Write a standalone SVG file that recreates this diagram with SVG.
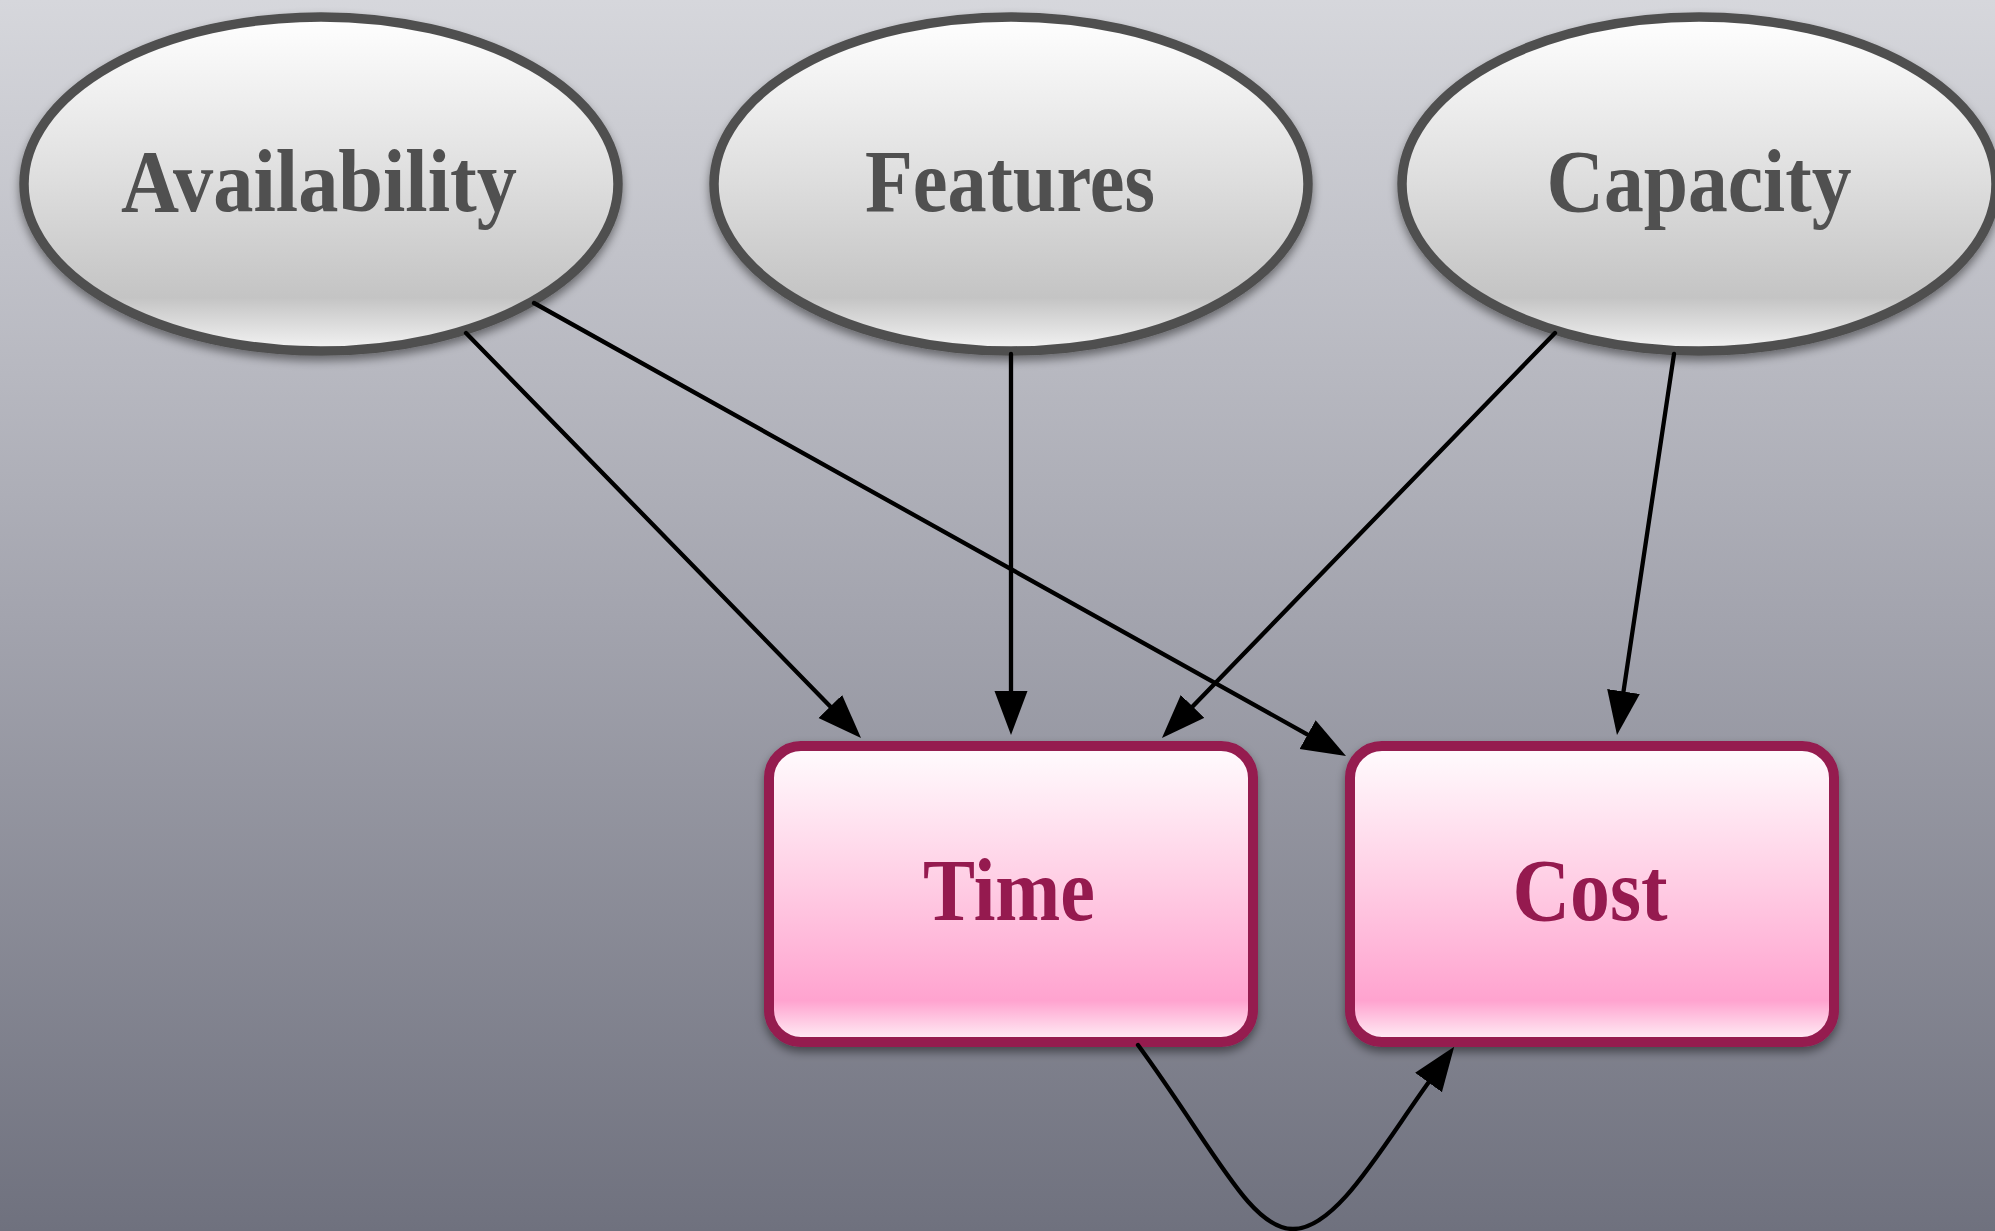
<svg xmlns="http://www.w3.org/2000/svg" width="1995" height="1231" viewBox="0 0 1995 1231">
  <defs>
    <linearGradient id="bg" x1="0" y1="0" x2="0" y2="1">
      <stop offset="0" stop-color="#d6d7dc"/>
      <stop offset="0.5" stop-color="#a3a4ae"/>
      <stop offset="1" stop-color="#6f717e"/>
    </linearGradient>
    <linearGradient id="grayFill" x1="0" y1="0" x2="0" y2="1">
      <stop offset="0" stop-color="#ffffff"/>
      <stop offset="0.5" stop-color="#dddddd"/>
      <stop offset="0.84" stop-color="#c4c4c4"/>
      <stop offset="1" stop-color="#f4f4f4"/>
    </linearGradient>
    <linearGradient id="pinkFill" x1="0" y1="0" x2="0" y2="1">
      <stop offset="0" stop-color="#fffcfe"/>
      <stop offset="0.45" stop-color="#ffcfe5"/>
      <stop offset="0.86" stop-color="#ffa3cf"/>
      <stop offset="1" stop-color="#fff2f8"/>
    </linearGradient>
    <filter id="shadow" x="-10%" y="-10%" width="120%" height="130%">
      <feDropShadow dx="0" dy="5" stdDeviation="5" flood-color="#000000" flood-opacity="0.45"/>
    </filter>
    <marker id="arrow" markerUnits="userSpaceOnUse" markerWidth="46" markerHeight="34" refX="0" refY="16.5" orient="auto">
      <path d="M0,0 L44,16.5 L0,33 Z" fill="#000000"/>
    </marker>
    <style>
      .oval { fill: url(#grayFill); stroke: #505050; stroke-width: 9.5; filter: url(#shadow); }
      .box { fill: url(#pinkFill); stroke: #951a4f; stroke-width: 10; filter: url(#shadow); }
      .lbl { font-family: "Liberation Serif", "Times New Roman", serif; font-weight: bold; font-size: 88px; text-anchor: middle; }
      .gray { fill: #505050; }
      .red { fill: #951a4f; }
      .edge { fill: none; stroke: #000000; stroke-width: 4.3; stroke-linecap: round; marker-end: url(#arrow); }
    </style>
  </defs>

  <!-- backdrop -->
  <rect x="0" y="0" width="1995" height="1231" fill="url(#bg)"/>

  <!-- source factors -->
  <g id="availability">
    <ellipse class="oval" cx="321" cy="184" rx="297" ry="167"/>
    <text class="lbl gray" x="319" y="211" textLength="396" lengthAdjust="spacingAndGlyphs">Availability</text>
  </g>
  <g id="features">
    <ellipse class="oval" cx="1011" cy="184" rx="297" ry="167"/>
    <text class="lbl gray" x="1010" y="211" textLength="290" lengthAdjust="spacingAndGlyphs">Features</text>
  </g>
  <g id="capacity">
    <ellipse class="oval" cx="1699" cy="184" rx="297" ry="167"/>
    <text class="lbl gray" x="1699" y="211" textLength="305" lengthAdjust="spacingAndGlyphs">Capacity</text>
  </g>

  <!-- outcomes -->
  <g id="time">
    <rect class="box" x="769" y="746" width="484" height="296" rx="32" ry="32"/>
    <text class="lbl red" x="1009" y="920" textLength="172" lengthAdjust="spacingAndGlyphs">Time</text>
  </g>
  <g id="cost">
    <rect class="box" x="1350" y="746" width="484" height="296" rx="32" ry="32"/>
    <text class="lbl red" x="1590" y="920" textLength="155" lengthAdjust="spacingAndGlyphs">Cost</text>
  </g>

  <!-- connectors -->
  <g id="edges">
    <path class="edge" d="M466,333 L830.3,706.5"/>
    <path class="edge" d="M534,303 L1307.6,734.6"/>
    <path class="edge" d="M1011,354 L1011,691"/>
    <path class="edge" d="M1555,333 L1192.6,706.4"/>
    <path class="edge" d="M1674,354 L1623.5,691.5"/>
    <path class="edge" d="M1138,1045 C1215,1150 1250,1229 1293,1229 C1336,1229 1380,1150 1428.5,1082.5"/>
  </g>
</svg>
